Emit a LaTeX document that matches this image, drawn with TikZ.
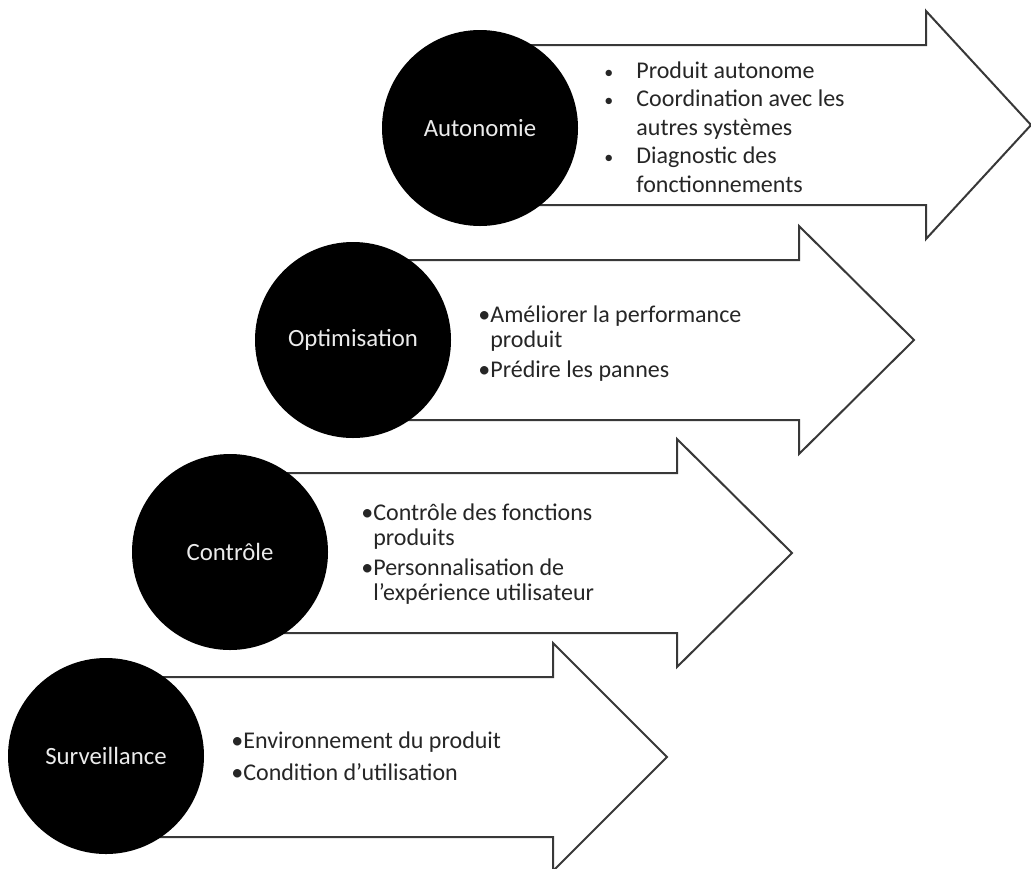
\documentclass[tikz,border=0pt]{standalone}
\usepackage{fontspec}
\setmainfont{Carlito}
\begin{document}
\begin{tikzpicture}[x=0.5pt,y=-0.5pt,
  shaft/.style={fill=white,draw=black!78,line width=1pt,line join=miter},
  stage/.style={circle,fill=black,minimum size=98pt,inner sep=0pt,text=white!92!black,font=\fontsize{12.4}{15}\selectfont},
  points/.style={anchor=base west,inner sep=0pt,text=black!85,font=\fontsize{12}{12.5}\selectfont}]
\useasboundingbox (0,0) rectangle (1031,868);
\clip (0,0) rectangle (1031,868);
% Autonomie
\draw[shaft] (480,45) -- (926,45) -- (926,11) -- (1031,125) -- (926,239) -- (926,205) -- (480,205) -- cycle;
\node[stage] (autonomie) at (480,128) {Autonomie};
\node[points,font=\fontsize{12}{14.25}\selectfont] (autonomieliste) at (604,78) {\begin{tabular}[t]{@{}l@{}l@{}}
\makebox[16pt][l]{\fontsize{9}{9}\selectfont•} & Produit autonome\\
\makebox[16pt][l]{\fontsize{9}{9}\selectfont•} & Coordination avec les\\
 & autres systèmes\\
\makebox[16pt][l]{\fontsize{9}{9}\selectfont•} & Diagnostic des\\
 & fonctionnements
\end{tabular}};
% Optimisation
\draw[shaft] (353,260) -- (799,260) -- (799,226) -- (914,340) -- (799,454) -- (799,420) -- (353,420) -- cycle;
\node[stage] (optimisation) at (353,340) {Optimisation};
\node[points] (optimisationliste) at (478,322) {\begin{tabular}[t]{@{}l@{}l@{}}
• & Améliorer la performance\\
 & produit\\[2.5pt]
• & Prédire les pannes
\end{tabular}};
% Controle
\draw[shaft] (230,473) -- (677,473) -- (677,439) -- (792,553) -- (677,667) -- (677,633) -- (230,633) -- cycle;
\node[stage] (controle) at (230,552) {Contrôle};
\node[points] (controleliste) at (361,520) {\begin{tabular}[t]{@{}l@{}l@{}}
• & Contrôle des fonctions\\
 & produits\\[2.5pt]
• & Personnalisation de\\
 & l’expérience utilisateur
\end{tabular}};
% Surveillance
\draw[shaft] (106,677) -- (553,677) -- (553,643) -- (667,757) -- (553,871) -- (553,837) -- (106,837) -- cycle;
\node[stage] (surveillance) at (106,756) {Surveillance};
\node[points] (surveillanceliste) at (231,748) {\begin{tabular}[t]{@{}l@{}l@{}}
• & Environnement du produit\\[3.5pt]
• & Condition d’utilisation
\end{tabular}};
\end{tikzpicture}
\end{document}
